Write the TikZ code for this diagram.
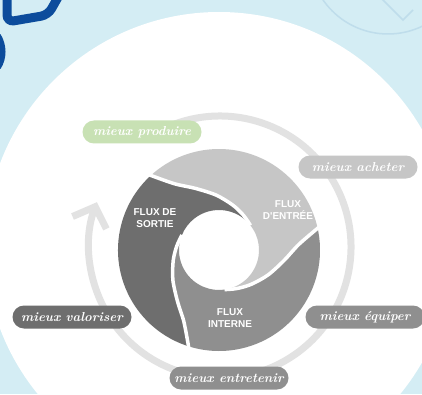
\documentclass[tikz,border=0pt]{standalone}
\usepackage{fontspec}
\newfontfamily\fluxfont{Liberation Sans}
\usetikzlibrary{arrows.meta}
\definecolor{bgblue}{HTML}{D4EDF4}
\definecolor{decoblue}{HTML}{0C4C9C}
\definecolor{faintblue}{HTML}{BFDDEB}
\definecolor{ringgray}{HTML}{E2E2E2}
\definecolor{fluxlight}{HTML}{C6C6C6}
\definecolor{fluxmid}{HTML}{8F8F8F}
\definecolor{fluxdark}{HTML}{6E6E6E}
\definecolor{pillgreen}{HTML}{C8E1B4}
\newcommand{\mieuxfont}{\bfseries\itshape\fontsize{13}{13}\selectfont}
\tikzset{x=1pt,y=1pt,
         pill/.style={rounded corners=11.5pt,minimum width=119pt,minimum height=23pt,
                      inner sep=0pt,text=white,font=\mieuxfont},
         flux/.style={text=white,align=center,font=\fluxfont\bfseries\fontsize{10}{12}\selectfont},
         gap/.style={draw=white,line width=3.5pt},
         ring/.style={draw=ringgray,line width=7pt}}

\begin{document}
\begin{tikzpicture}
\useasboundingbox (0,0) rectangle (422,394);
\clip (0,0) rectangle (422,394);
\fill[bgblue] (0,0) rectangle (422,394);
\draw[faintblue,line width=1.5pt] (388,439) circle[radius=79];
\draw[faintblue,line width=1.5pt] (381,396) -- (403,374) -- (413,384);
\fill[white] (219,148) circle[radius=234];
\draw[decoblue,line width=9pt,rounded corners=7pt] (7,402) -- (7,372) -- (48,379) -- (61,402);
\draw[decoblue,line width=8pt] (-3,358) .. controls (3,348) and (3,336) .. (-3,327);

\coordinate (c) at (220,147);
\draw[ring,-{Straight Barb[length=17pt,width=36pt]}] (c) ++(120:131)
  arc[start angle=120,end angle=-200,radius=131];

\begin{scope}[shift={(219,144)}]
\foreach \rot/\col in {0/fluxlight,-120/fluxmid,120/fluxdark}
  \fill[\col,rotate=\rot] (133:101) arc[start angle=133,end angle=13,radius=101]
    -- plot[smooth] coordinates {(13:101) (4:80) (-9:66) (-27:55) (-47:47) (-65:42.5) (-82:40)}
    arc[start angle=-82,end angle=38,radius=40]
    -- plot[smooth] coordinates {(38:40) (55:42.5) (73:47) (93:55) (111:66) (124:80) (133:101)}
    -- cycle;
\foreach \rot in {0,120,240}
  \draw[gap,rotate=\rot] plot[smooth] coordinates {(133:103) (124:80) (111:66) (93:55) (73:47) (55:42.5) (38:40)};
\end{scope}

\node[flux] (entree) at (288,184) {FLUX\\D'ENTRÉE};
\node[flux] (sortie) at (155,176) {FLUX DE\\SORTIE};
\node[flux] (interne) at (230,76) {FLUX\\INTERNE};

\node[pill,fill=pillgreen] (produire) at (142,262) {mieux produire};
\node[pill,fill=fluxlight] (acheter) at (358,227) {mieux acheter};
\node[pill,fill=fluxdark] (valoriser) at (72,77) {mieux valoriser};
\node[pill,fill=fluxmid] (equiper) at (365,77) {mieux équiper};
\node[pill,fill=fluxmid] (entretenir) at (229,16) {mieux entretenir};
\end{tikzpicture}
\end{document}
